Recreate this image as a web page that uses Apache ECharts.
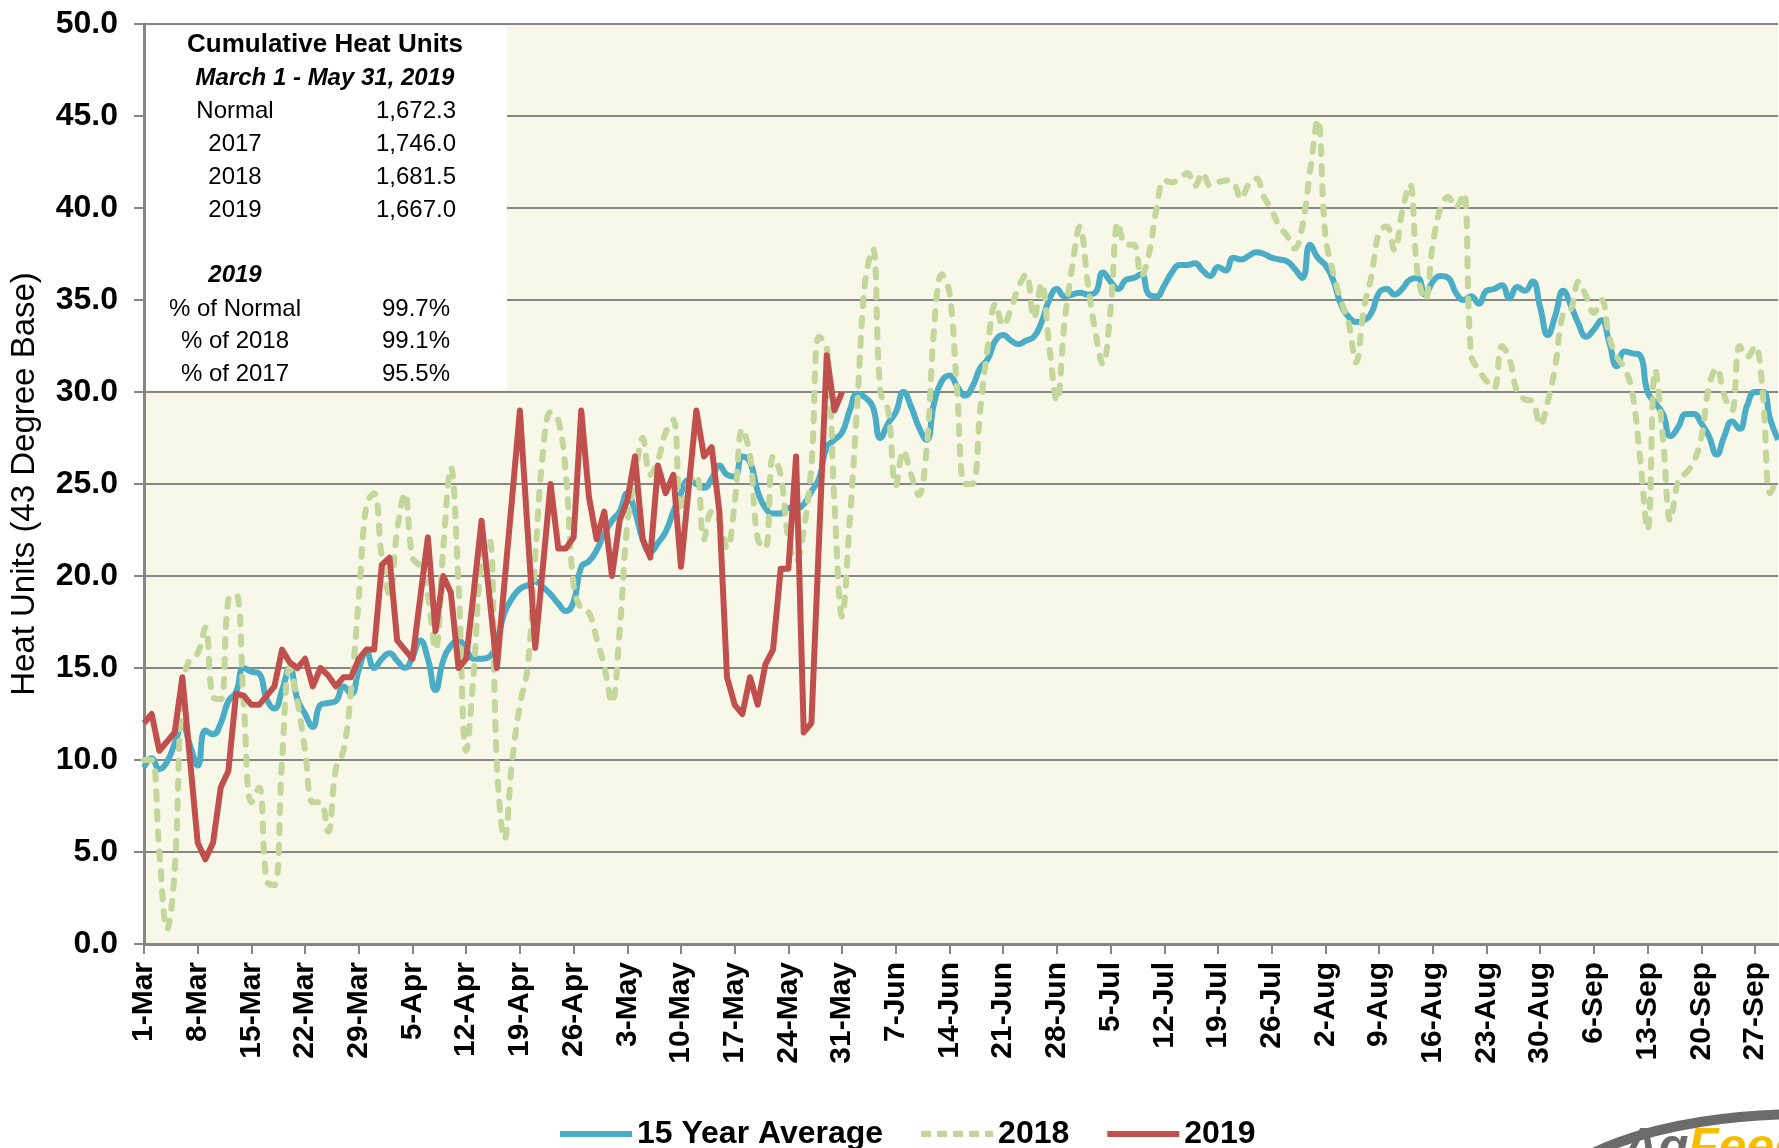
<!DOCTYPE html>
<html>
<head>
<meta charset="utf-8">
<title>Heat Units</title>
<script src="https://cdn.jsdelivr.net/npm/echarts@6/dist/echarts.min.js"></script>
<style>
  html, body { margin: 0; padding: 0; background: #fff; }
  #chart { width: 1779px; height: 1148px; }
</style>
</head>
<body>
<div id="chart"></div>
<script>
// daily heat units, 1-Mar .. 30-Sep
var months = [['Mar', 31], ['Apr', 30], ['May', 31], ['Jun', 30], ['Jul', 31], ['Aug', 31], ['Sep', 30]];

var avg15 = [
  9.6, 10.1, 9.5, 9.9, 10.9, 11.9, 10.8, 9.7, 11.6, 11.4,
  12.0, 13.2, 13.7, 15.0, 14.8, 14.7, 13.3, 12.8, 13.8, 15.0,
  13.3, 12.5, 11.8, 13.0, 13.1, 13.2, 14.0, 13.6, 14.9, 15.9,
  15.0, 15.5, 15.8, 15.4, 15.0, 15.6, 16.5, 15.5, 13.8, 15.4,
  16.2, 16.5, 16.0, 15.5, 15.5, 15.6, 16.5, 18.0, 18.8, 19.3,
  19.5, 19.7, 19.4, 19.0, 18.5, 18.1, 18.6, 20.5, 20.8, 21.4,
  22.3, 23.0, 23.5, 24.5, 23.5, 22.0, 21.3, 21.8, 22.4, 23.5,
  24.5, 25.2, 25.0, 24.8, 25.3, 26.0, 25.5, 25.4, 26.5, 26.2,
  24.6, 23.7, 23.4, 23.4, 23.7, 23.7, 23.9, 24.6, 25.3, 27.0,
  27.4, 27.8, 29.0, 29.9, 29.7, 29.2, 27.5, 28.3, 28.9, 30.0,
  29.2, 28.1, 27.4, 29.4, 30.6, 30.9, 30.3, 29.8, 30.3, 31.3,
  31.8, 32.8, 33.1, 32.8, 32.6, 32.8, 33.0, 33.8, 35.0, 35.6,
  35.2, 35.3, 35.4, 35.3, 35.4, 36.5, 36.0, 35.6, 36.1, 36.2,
  36.4, 35.3, 35.2, 35.8, 36.5, 36.9, 36.9, 37.0, 36.6, 36.3,
  36.8, 36.6, 37.3, 37.2, 37.4, 37.6, 37.5, 37.3, 37.2, 37.1,
  36.7, 36.2, 38.0, 37.3, 36.9, 36.1, 34.8, 34.1, 33.8, 33.9,
  34.3, 35.4, 35.6, 35.3, 35.6, 36.1, 36.2, 35.3, 36.0, 36.3,
  36.2, 35.4, 35.0, 35.2, 34.8, 35.5, 35.6, 35.8, 35.1, 35.7,
  35.5, 36.0, 34.6, 33.1, 34.2, 35.5, 34.7, 33.7, 33.0, 33.4,
  33.9, 32.7, 31.4, 32.2, 32.1, 32.0, 30.0, 29.4, 28.8, 27.6,
  28.1, 28.8, 28.8, 28.3, 27.6, 26.6, 27.6, 28.4, 28.0, 29.3,
  30.0, 30.0, 28.5, 27.4
];

var y2018 = [
  10.0, 10.0, 5.0, 0.8, 4.0, 14.0, 15.5, 15.8, 17.2, 13.4,
  13.3, 18.7, 19.0, 13.0, 7.7, 8.5, 3.4, 3.2, 10.0, 15.0,
  13.2, 10.5, 7.7, 7.7, 6.1, 9.5, 10.5, 13.8, 18.8, 23.9,
  24.5, 21.0, 19.0, 22.5, 24.5, 21.0, 20.5, 18.9, 16.0, 21.5,
  25.9, 19.5, 10.5, 14.9, 21.0, 22.0, 9.8, 5.7, 10.0, 13.0,
  15.0, 21.0, 26.7, 28.9, 28.5, 25.5, 19.5, 18.2, 18.0, 16.6,
  15.1, 13.1, 17.0, 22.8, 25.3, 27.5, 25.5, 26.3, 27.8, 28.5,
  23.5, 25.0, 25.5, 22.0, 23.5, 23.0, 21.5, 24.0, 28.0, 26.5,
  22.0, 21.5, 26.5, 25.5, 22.0, 20.8, 22.5, 26.0, 33.0, 32.5,
  24.0, 17.8, 23.0, 29.5, 36.0, 37.8, 30.0, 29.0, 24.9, 26.8,
  25.5, 24.4, 26.8, 33.5, 36.4, 35.4, 30.0, 25.0, 25.0, 29.0,
  32.5, 34.8, 33.6, 34.5, 35.7, 36.4, 34.0, 35.9, 32.5, 29.5,
  33.8, 36.8, 39.0, 36.0, 33.3, 31.5, 34.5, 39.2, 38.0, 38.0,
  36.3, 37.5, 40.0, 41.5, 41.4, 41.6, 41.9, 41.2, 41.9, 41.2,
  41.4, 41.5, 41.4, 40.5, 41.3, 41.6, 40.6, 39.9, 39.0, 38.5,
  37.8, 39.0, 42.0, 44.8, 38.5, 36.5, 35.0, 33.8, 31.6, 34.5,
  36.3, 38.7, 39.0, 37.7, 39.8, 41.3, 36.5, 35.0, 38.0, 40.0,
  40.6, 40.0, 40.8, 32.0, 31.2, 30.6, 30.2, 32.5, 31.8, 30.0,
  29.6, 29.5, 28.2, 29.5, 31.5, 34.3, 34.5, 36.0, 35.2, 34.3,
  35.0, 33.0, 31.9, 31.3, 30.0, 26.5, 22.5, 31.2, 27.5, 23.0,
  25.2, 25.6, 26.2, 27.5, 30.3, 31.3, 29.8, 29.0, 32.5, 31.9,
  32.5, 30.0, 24.5, 25.4
];

var y2019 = [
  12.0, 12.5, 10.5, 11.0, 11.5, 14.5, 10.0, 5.5, 4.6, 5.5,
  8.5, 9.4, 13.6, 13.5, 13.0, 13.0, 13.5, 14.0, 16.0, 15.3,
  15.0, 15.5, 14.0, 15.0, 14.6, 14.0, 14.5, 14.5, 15.5, 16.0,
  16.0, 20.6, 21.0, 16.5, 16.0, 15.5, 18.8, 22.1, 17.0, 20.0,
  19.1, 15.0, 15.5, 19.2, 23.0, 19.0, 15.0, 19.7, 24.3, 29.0,
  22.5, 16.1, 20.5, 25.0, 21.5, 21.5, 22.1, 29.0, 24.3, 22.0,
  23.5, 20.0, 23.0, 24.1, 26.5, 22.0, 21.0, 26.0, 24.5, 25.5,
  20.5, 24.8, 29.0, 26.5, 27.0, 23.5, 14.5, 13.0, 12.5, 14.5,
  13.0, 15.2, 16.0, 20.4, 20.4, 26.5, 11.5, 12.0, 22.0, 32.0,
  29.0, 30.0
];

// summary box
var boxTitle = 'Cumulative Heat Units';
var boxPeriod = 'March 1 - May 31, 2019';
var totalNames = ['Normal', '2017', '2018', '2019'];
var totalValues = ['1,672.3', '1,746.0', '1,681.5', '1,667.0'];
var pctHeader = '2019';
var pctNames = ['% of Normal', '% of 2018', '% of 2017'];
var pctValues = ['99.7%', '99.1%', '95.5%'];

var days = [];
months.forEach(function (m) {
  for (var i = 1; i <= m[1]; i++) days.push(i + '-' + m[0]);
});

var FONT = '"Liberation Sans", Arial, sans-serif';
var GRID = '#868686';
var BLUE = '#4BACC6', GREEN = '#C3D69B', RED = '#C0504D';

var graphics = [
  { type: 'rect', z: 10, shape: { x: 146, y: 26, width: 361, height: 364 }, style: { fill: '#fff' } },
  { type: 'text', z: 11, style: { x: 325, y: 45, text: boxTitle, font: 'bold 26px ' + FONT, fill: '#000', align: 'center', verticalAlign: 'middle' } },
  { type: 'text', z: 11, style: { x: 325, y: 78, text: boxPeriod, font: 'italic bold 24px ' + FONT, fill: '#000', align: 'center', verticalAlign: 'middle' } },
  { type: 'text', z: 11, style: { x: 235, y: 275, text: pctHeader, font: 'italic bold 24px ' + FONT, fill: '#000', align: 'center', verticalAlign: 'middle' } }
];
totalNames.forEach(function (n, i) {
  var y = 111 + i * 33;
  graphics.push({ type: 'text', z: 11, style: { x: 235, y: y, text: n, font: '24px ' + FONT, fill: '#000', align: 'center', verticalAlign: 'middle' } });
  graphics.push({ type: 'text', z: 11, style: { x: 416, y: y, text: totalValues[i], font: '24px ' + FONT, fill: '#000', align: 'center', verticalAlign: 'middle' } });
});
pctNames.forEach(function (n, i) {
  var y = 309 + i * 32.5;
  graphics.push({ type: 'text', z: 11, style: { x: 235, y: y, text: n, font: '24px ' + FONT, fill: '#000', align: 'center', verticalAlign: 'middle' } });
  graphics.push({ type: 'text', z: 11, style: { x: 416, y: y, text: pctValues[i], font: '24px ' + FONT, fill: '#000', align: 'center', verticalAlign: 'middle' } });
});
// logo, cut off at the corner
graphics.push({ type: 'ellipse', z: 11, shape: { cx: 1805, cy: 1212, rx: 265, ry: 98 }, style: { fill: 'none', stroke: '#6b6b6b', lineWidth: 10 } });
graphics.push({ type: 'text', z: 11, style: { x: 1622, y: 1124, text: 'Ag', font: 'italic bold 50px ' + FONT, fill: '#6b6b6b', verticalAlign: 'top' } });
graphics.push({ type: 'text', z: 11, style: { x: 1688, y: 1124, text: 'Feed', font: 'italic bold 50px ' + FONT, fill: '#F5BF00', verticalAlign: 'top' } });

var dashIcon = 'path://M0,0h10v6h-10z M16,0h10v6h-10z M32,0h10v6h-10z M48,0h10v6h-10z M64,0h8v6h-8z';

var chart = echarts.init(document.getElementById('chart'));
var option = {
  animation: false,
  backgroundColor: '#fff',
  grid: { left: 144, right: 1, top: 24, bottom: 204, show: true, backgroundColor: '#F8F8E8', borderWidth: 0 },
  legend: {
    left: 555, top: 1113,
    itemWidth: 72, itemHeight: 6, itemGap: 38,
    textStyle: { fontSize: 32, fontWeight: 'bold', color: '#000', fontFamily: FONT },
    data: [
      { name: '15 Year Average', icon: 'rect' },
      { name: '2018', icon: dashIcon },
      { name: '2019', icon: 'rect' }
    ]
  },
  xAxis: {
    type: 'category',
    data: days,
    boundaryGap: false,
    axisLine: { lineStyle: { color: GRID, width: 3 } },
    axisTick: { interval: 6, length: 10, lineStyle: { color: GRID, width: 2 } },
    axisLabel: { interval: 6, rotate: 90, margin: 18, fontSize: 30, fontWeight: 'bold', color: '#000', fontFamily: FONT },
    splitLine: { show: false }
  },
  yAxis: {
    type: 'value',
    min: 0, max: 50, interval: 5,
    name: 'Heat Units (43 Degree Base)',
    nameLocation: 'middle',
    nameGap: 103,
    nameTextStyle: { fontSize: 33, color: '#000', fontFamily: FONT },
    axisLine: { show: true, lineStyle: { color: GRID, width: 3 } },
    axisTick: { show: true, length: 10, lineStyle: { color: GRID, width: 2 } },
    axisLabel: { margin: 26, fontSize: 32, fontWeight: 'bold', color: '#000', fontFamily: FONT,
      formatter: function (v) { return v.toFixed(1); } },
    splitLine: { lineStyle: { color: GRID, width: 2 } }
  },
  series: [
    { name: '15 Year Average', type: 'line', data: avg15, smooth: 0.5, symbol: 'none',
      itemStyle: { color: BLUE }, lineStyle: { color: BLUE, width: 6 } },
    { name: '2018', type: 'line', data: y2018, smooth: 0.4, symbol: 'none',
      itemStyle: { color: GREEN }, lineStyle: { color: GREEN, width: 6, type: [8, 12], cap: 'round' } },
    { name: '2019', type: 'line', data: y2019, symbol: 'none',
      itemStyle: { color: RED }, lineStyle: { color: RED, width: 6, join: 'round' } }
  ],
  graphic: graphics
};
chart.setOption(option);
</script>
</body>
</html>
